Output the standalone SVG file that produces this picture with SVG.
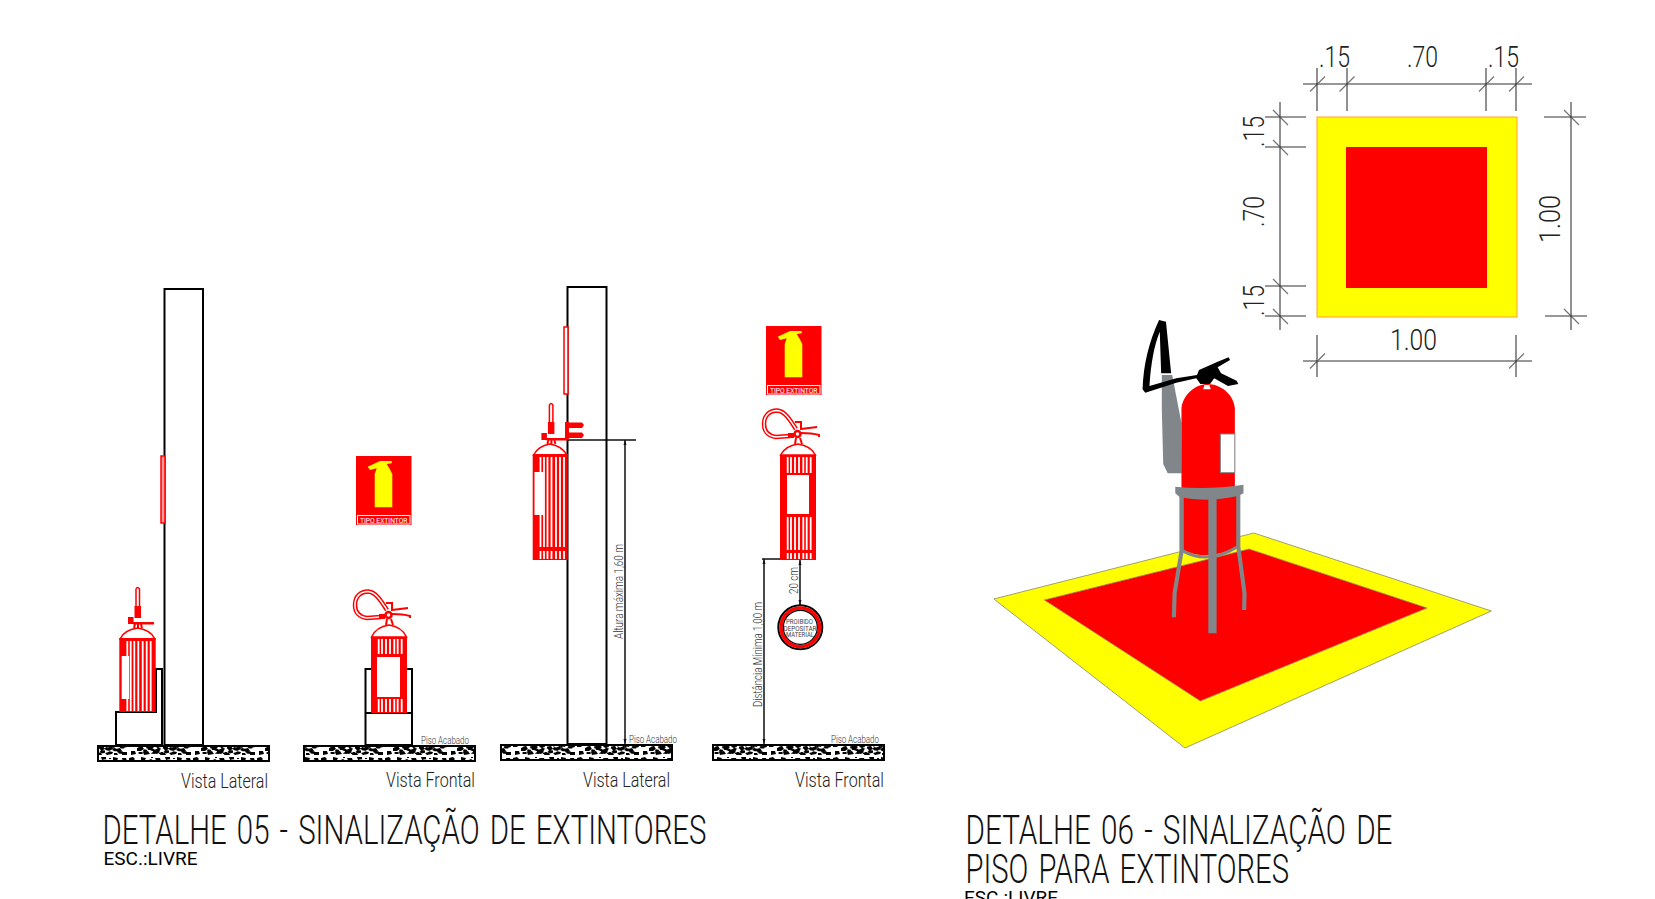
<svg xmlns="http://www.w3.org/2000/svg" xmlns:xlink="http://www.w3.org/1999/xlink" width="1655" height="899" viewBox="0 0 1655 899">
<style>
text{font-family:Roboto,"Liberation Sans",sans-serif;font-weight:300;fill:#111}
.title{font-size:40px;word-spacing:4px}
.esc{font-size:19px;font-weight:400;fill:#000}
.view{font-size:20px;fill:#222}
.piso{font-size:10px;fill:#333}
.note{font-size:13px;fill:#333}
.dimt{font-size:29px;fill:#222}
.sn{font-size:8px;font-weight:400;fill:#fff}
.ps{font-size:7.5px;font-weight:400;fill:#444}
.blk{fill:none;stroke:#000;stroke-width:2}
.lead{fill:none;stroke:#111;stroke-width:1.5}
.dg{fill:none;stroke:#777;stroke-width:1.3}
.dk{fill:none;stroke:#222;stroke-width:1}
.red{fill:#f00}
.rl{fill:none;stroke:#f00;stroke-width:2}
.wst{fill:none;stroke:#fff;stroke-width:1.8}
.gray{fill:#808689}
.gl{fill:none;stroke:#808689}
.thin{fill:#ff9a9a;stroke:#f00;stroke-width:1.500}
</style>
<defs>
<path id="blobs" fill="#000" d="M1,2l4,-1 2,2 -2,2 -4,0zM9,6l5,-2 2,3 -3,2 -4,0zM3,9l4,0 1,3 -5,1zM13,1l5,1 -1,2 -4,0zM19,5l4,-2 3,2 -3,3 -3,0zM15,10l5,-1 2,3 -6,1zM27,2l5,0 1,3 -4,1zM25,8l4,-1 3,3 -3,2 -4,-1zM35,5l4,-1 2,3 -4,2zM37,1l5,0 0,2 -4,1zM33,10l4,1 1,2 -6,0zM43,6l5,-2 1,3 -4,2zM41,11l4,-1 3,2 -5,1zM49,1l5,1 -1,3 -4,-1zM52,7l4,-1 2,3 -4,2zM58,2l4,0 1,3 -4,1zM58,10l5,0 0,3 -5,0zM50,11l3,0 1,2 -4,0zM23,1l2,0 0,1 -2,0zM45,2l2,0 0,1 -2,0z"/>
<pattern id="conc" patternUnits="userSpaceOnUse" width="64" height="14">
<rect width="64" height="14" fill="#fff"/>
<use xlink:href="#blobs" href="#blobs"/>
<use xlink:href="#blobs" href="#blobs" transform="translate(61 3) scale(-0.800 0.700)"/>
</pattern>
<g id="sign">
<rect width="55.500" height="69" fill="#f00"/>
<path fill="#ff0" d="M11.700,10.700L24,5H35.700V7.300L30.700,8 33.300,12.300 36.300,18V51.300H18.700V18L20.700,12.300 14,14Z"/>
<rect x="1.500" y="59.500" width="52.500" height="8.500" fill="#f00" stroke="#fff" stroke-width="1"/>
<text class="sn" x="4" y="66.800" textLength="47.500" lengthAdjust="spacingAndGlyphs">TIPO EXTINTOR</text>
</g>
<g id="headF">
<path d="M790,436L776,437C768,436 764,431 764,424C764,415 770,410.500 777,410.500C785,411 790,420 796,429" fill="none" stroke="#f00" stroke-width="4.500"/>
<path d="M790,436L776,437C768,436 764,431 764,424C764,415 770,410.500 777,410.500C785,411 790,420 796,429" fill="none" stroke="#fff" stroke-width="1.500"/>
<path class="rl" d="M795,422H801V430M801,429L817,427M801,433Q812,433 819,435V437M795,444L796,438M802,444L800,438"/>
<path fill="#f00" d="M788,433H794V438H788Z"/>
<circle cx="797.500" cy="434" r="3" fill="#fff" stroke="#f00" stroke-width="2.500"/>
</g>
<g id="headL">
<path fill="#fff" stroke="#f00" stroke-width="1.500" d="M136,608V589Q137.500,586 139.500,589V608Z"/>
<path fill="#f00" d="M134.500,606H141V618H134.500ZM128,617H133.500V624H128ZM133,622H154V624.500H133Z"/>
<path class="rl" d="M135,624L134,628M138,624V628M141,624L142,628"/>
</g>
</defs>

<g id="connectors">
<path class="lead" d="M567,440H636M625,440V744M762,559H780M764,559V744M800,560V605"/>
<path fill="#111" d="M625,440l-1.500,5h3zM625,744l-1.500,-5h3zM764,559l-1.500,5h3zM764,744l-1.500,-5h3zM800,560l-1.500,5h3zM800,605l-1.500,-5h3z"/>
<path class="dg" d="M1303,84H1532M1303,361H1532M1265,117H1306M1265,147H1306M1265,286H1306M1265,316H1306M1544,117H1586M1545,316H1587"/>
<path class="dg" d="M1310,91.500l15,-15M1339.500,91.500l15,-15M1479,91.500l15,-15M1509,91.500l15,-15M1310,368.500l15,-15M1509,368.500l15,-15M1273,110l15,15M1273,140l15,15M1273,279l15,15M1273,309l15,15M1564,110l15,15M1564,309l15,15"/>
<path class="dk" d="M1317,68V111M1347,68V111M1486,68V111M1516,68V111M1317,335V377M1516,335V377M1280,102V330M1571,102V330"/>
</g>

<g id="floor-1"><rect class="blk" x="98" y="746" width="171" height="15" style="fill:url(#conc)"/></g>
<g id="floor-2"><rect class="blk" x="304" y="746" width="171" height="15" style="fill:url(#conc)"/></g>
<g id="floor-3"><rect class="blk" x="501" y="745" width="171" height="15" style="fill:url(#conc)"/></g>
<g id="floor-4"><rect class="blk" x="713" y="745" width="171" height="15" style="fill:url(#conc)"/></g>

<g id="column-1">
<rect class="blk" x="164.500" y="289" width="38.500" height="456"/>
<rect class="thin" x="161" y="456" width="4" height="67"/>
</g>
<g id="column-2">
<rect class="blk" x="567.500" y="287" width="39" height="457"/>
<rect class="thin" x="564" y="327" width="4" height="67" style="fill:#fff"/>
</g>

<g id="support-1"><path class="blk" d="M116,745V712H156V669H162V745H116Z"/></g>
<g id="support-2"><path class="blk" d="M365.500,745V669H371M407,669H412V745H365.500M365.500,713H412"/></g>

<g id="extinguisher-1">
<use xlink:href="#headL" href="#headL"/>
<path fill="#fff" stroke="#f00" stroke-width="1.500" d="M120,639Q124,630 137.500,628Q151,630 155,639Z"/>
<rect class="red" x="119.300" y="638" width="36.400" height="74"/>
<path class="wst" d="M127.300,641V711M130.700,641V711M134.300,641V711M138.300,641V711M142.700,641V711M146.700,641V711M150.700,641V711"/>
<rect x="121.700" y="656" width="7.500" height="43" fill="#fff"/>
</g>

<g id="extinguisher-2">
<use xlink:href="#headF" href="#headF" transform="translate(-409 181)"/>
<path fill="#fff" stroke="#f00" stroke-width="1.500" d="M371.500,637Q376,627 389,625Q402,627 406.500,637Z"/>
<rect class="red" x="371" y="637" width="36" height="76"/>
<path class="wst" d="M378.700,639V654M382,639V654M386,639V654M390,639V654M394.300,639V654M397.700,639V654M401.700,639V654M378.700,699V712M382,699V712M386,699V712M390,699V712M394.300,699V712M397.700,699V712M401.700,699V712"/>
<rect x="377" y="657" width="23" height="40" fill="#fff"/>
</g>

<g id="sign-1"><use xlink:href="#sign" href="#sign" transform="translate(356 456)"/></g>

<g id="extinguisher-3">
<use xlink:href="#headL" href="#headL" transform="translate(413.400 -184)"/>
<path fill="#f00" d="M565,422H569V440H565ZM566,422.500H582L584,425 582,428H566ZM566,432.500H582L584,435 582,438H566Z"/>
<path fill="#fff" stroke="#f00" stroke-width="1.500" d="M533.500,455Q538,446 550,444Q562,446 567,455Z"/>
<rect class="red" x="532.700" y="454" width="35" height="106"/>
<path class="wst" d="M540.500,457V547M544,457V547M547.500,457V547M551.500,457V547M556,457V547M560,457V547M564,457V547M540.500,551V559M544,551V559M547.500,551V559M551.500,551V559M556,551V559M560,551V559M564,551V559"/>
<rect x="534.500" y="472" width="9" height="43" fill="#fff"/>
</g>

<g id="sign-2"><use xlink:href="#sign" href="#sign" transform="translate(766 326)"/></g>

<g id="extinguisher-4">
<use xlink:href="#headF" href="#headF"/>
<path fill="#fff" stroke="#f00" stroke-width="1.500" d="M780.500,455Q785,446 798,444Q811,446 815.500,455Z"/>
<rect class="red" x="780" y="455" width="36" height="105"/>
<path class="wst" d="M787.700,457V473M791,457V473M795,457V473M799,457V473M803.300,457V473M806.700,457V473M810.700,457V473M787.700,517V550M791,517V550M795,517V550M799,517V550M803.300,517V550M806.700,517V550M810.700,517V550M787.700,553V559M791,553V559M795,553V559M799,553V559M803.300,553V559M806.700,553V559M810.700,553V559"/>
<rect x="787" y="475" width="22" height="39" fill="#fff"/>
</g>

<g id="prohibition-sign">
<circle cx="800.300" cy="627.300" r="22" fill="#fff" stroke="#000" stroke-width="2"/>
<circle cx="800.300" cy="627.300" r="19.300" fill="#fff" stroke="#f00" stroke-width="3.500"/>
<circle cx="800.300" cy="627.300" r="17" fill="#fff" stroke="#000" stroke-width="1.200"/>
<text class="ps" x="786" y="624" textLength="27" lengthAdjust="spacingAndGlyphs">PROIBIDO</text>
<text class="ps" x="783.500" y="631" textLength="33" lengthAdjust="spacingAndGlyphs">DEPOSITAR</text>
<text class="ps" x="786" y="637" textLength="28" lengthAdjust="spacingAndGlyphs">MATERIAL</text>
</g>

<g id="floor-plan">
<rect x="1317" y="117" width="200" height="200" fill="#ff0" stroke="#ffa030" stroke-width="1"/>
<rect x="1346" y="147" width="141" height="141" fill="#f00"/>
</g>

<g id="floor-3d">
<path d="M993.800,599L1253.800,533 1491.400,611 1185,748Z" fill="#ff0" stroke="#a0a070" stroke-width="1"/>
<path d="M1044.400,600L1249,549 1427,608 1200.400,701Z" fill="#f00" stroke="#a08a60" stroke-width="0.800"/>
</g>

<g id="extinguisher-3d" transform="translate(980 310) scale(0.3444 0.3333)">
<path class="gray" d="M528,195H558L585,340 586,490H545L532,462 528,300Z"/>
<path class="red" d="M585,535V295C590,250 630,222 660,222C700,222 738,255 740,295V535ZM590,560V720Q660,755 746,712L748,555Z"/>
<rect x="698" y="372" width="42" height="116" fill="#fff" stroke="#808689" stroke-width="3"/>
<path d="M648,238L652,225H666L670,238Z" fill="#fff"/>
<path class="gray" d="M567,530Q660,540 765,524V550L750,558Q660,578 580,562L567,550Z"/>
<path class="gray" d="M663,560H687V970H663Z"/>
<path class="gl" stroke-width="12" d="M585,560V725L565,850 563,922M750,555V710L768,850 767,900"/>
<path class="gl" stroke-width="9" d="M588,722Q660,765 745,712"/>
<path fill="#000" d="M520,30L540,35 555,190H526L522,65Q498,125 492,228L570,205 630,195 636,180 690,155 722,142 726,150 690,172 700,190 745,212 750,222 720,228 680,205 668,222H640L628,205 570,218 480,248 472,238Q475,130 520,30Z"/>
</g>

<g id="labels">
<text class="view" x="181" y="788" textLength="87" lengthAdjust="spacingAndGlyphs">Vista Lateral</text>
<text class="view" x="386" y="787" textLength="89" lengthAdjust="spacingAndGlyphs">Vista Frontal</text>
<text class="view" x="583" y="787" textLength="87" lengthAdjust="spacingAndGlyphs">Vista Lateral</text>
<text class="view" x="795" y="787" textLength="89" lengthAdjust="spacingAndGlyphs">Vista Frontal</text>
<text class="piso" x="421" y="744" textLength="48" lengthAdjust="spacingAndGlyphs">Piso Acabado</text>
<text class="piso" x="629" y="743" textLength="48" lengthAdjust="spacingAndGlyphs">Piso Acabado</text>
<text class="piso" x="831" y="743" textLength="48" lengthAdjust="spacingAndGlyphs">Piso Acabado</text>
<text class="note" transform="translate(622.500 639) rotate(-90)" textLength="95" lengthAdjust="spacingAndGlyphs">Altura máxima 1,60 m</text>
<text class="note" transform="translate(761.500 707) rotate(-90)" textLength="105" lengthAdjust="spacingAndGlyphs">Distância Mínima 1,00 m</text>
<text class="note" transform="translate(798 594) rotate(-90)" textLength="27" lengthAdjust="spacingAndGlyphs">20 cm</text>
<text class="dimt" x="1319" y="67" textLength="31" lengthAdjust="spacingAndGlyphs">.15</text>
<text class="dimt" x="1407" y="67" textLength="31" lengthAdjust="spacingAndGlyphs">.70</text>
<text class="dimt" x="1488" y="67" textLength="31" lengthAdjust="spacingAndGlyphs">.15</text>
<text class="dimt" x="1390" y="350" textLength="47" lengthAdjust="spacingAndGlyphs">1.00</text>
<text class="dimt" transform="translate(1264 147) rotate(-90)" textLength="31" lengthAdjust="spacingAndGlyphs">.15</text>
<text class="dimt" transform="translate(1264 227) rotate(-90)" textLength="31" lengthAdjust="spacingAndGlyphs">.70</text>
<text class="dimt" transform="translate(1264 316) rotate(-90)" textLength="31" lengthAdjust="spacingAndGlyphs">.15</text>
<text class="dimt" transform="translate(1560 243) rotate(-90)" textLength="48" lengthAdjust="spacingAndGlyphs">1.00</text>
<text class="title" x="102.500" y="844" textLength="604" lengthAdjust="spacingAndGlyphs">DETALHE 05 - SINALIZAÇÃO DE EXTINTORES</text>
<text class="esc" x="103.500" y="865" textLength="94" lengthAdjust="spacingAndGlyphs">ESC.:LIVRE</text>
<text class="title" x="965.500" y="844" textLength="427" lengthAdjust="spacingAndGlyphs">DETALHE 06 - SINALIZAÇÃO DE</text>
<text class="title" x="965.500" y="883" textLength="323.500" lengthAdjust="spacingAndGlyphs">PISO PARA EXTINTORES</text>
<text class="esc" x="964" y="904" textLength="94" lengthAdjust="spacingAndGlyphs">ESC.:LIVRE</text>
</g>
</svg>
